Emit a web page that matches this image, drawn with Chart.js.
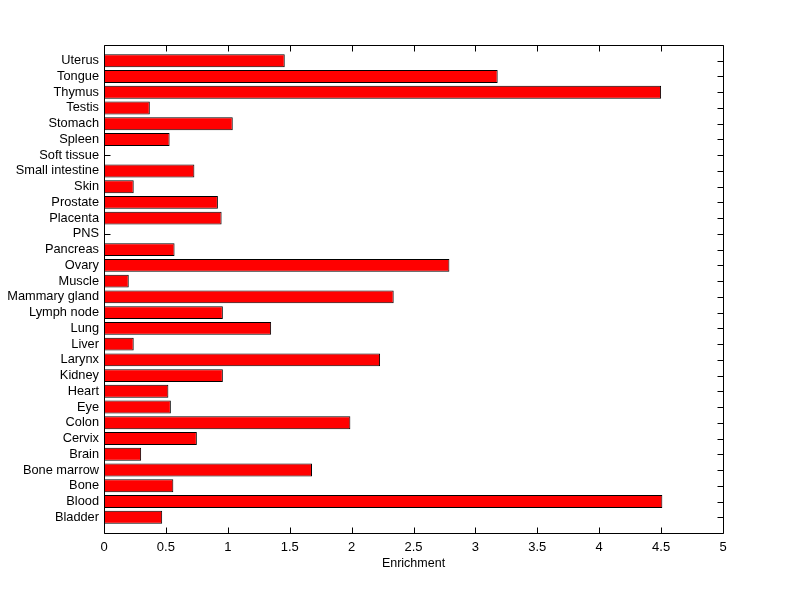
<!DOCTYPE html>
<html><head><meta charset="utf-8">
<script src="https://cdn.jsdelivr.net/npm/chart.js@4"></script>
<style>html,body{margin:0;padding:0;background:#fff}#wrap{width:800px;height:599px}</style>
</head><body><div id="wrap"><canvas id="c" width="800" height="599"></canvas></div>
<script>
const categories = ["Uterus","Tongue","Thymus","Testis","Stomach","Spleen","Soft tissue","Small intestine","Skin","Prostate","Placenta","PNS","Pancreas","Ovary","Muscle","Mammary gland","Lymph node","Lung","Liver","Larynx","Kidney","Heart","Eye","Colon","Cervix","Brain","Bone marrow","Bone","Blood","Bladder"];
const enrichment = [1.46,3.18,4.50,0.37,1.04,0.53,0,0.73,0.24,0.92,0.95,0,0.57,2.79,0.20,2.34,0.96,1.35,0.24,2.23,0.96,0.52,0.54,1.99,0.75,0.30,1.68,0.56,4.51,0.47];
const xTicks = [0,0.5,1,1.5,2,2.5,3,3.5,4,4.5,5];
const xTitle = "Enrichment";

const n = categories.length;
const points = enrichment.map((v,i)=>({x:v, y:n - i}));
const FONT = "'Liberation Sans', Arial, sans-serif";

const frame = {
  id:'frame',
  beforeDatasetsDraw(chart){
    const {ctx, chartArea:a, scales:{x,y}} = chart;
    ctx.save();
    ctx.strokeStyle='#000'; ctx.lineWidth=1;
    ctx.beginPath();
    const L=Math.round(a.left)+0.5, R=Math.round(a.right)+0.5, T=Math.round(a.top)+0.5, B=Math.round(a.bottom)+0.5;
    ctx.rect(L,T,R-L,B-T);
    const tl=6;
    xTicks.forEach(v=>{const px=Math.round(x.getPixelForValue(v))+0.5; ctx.moveTo(px,B); ctx.lineTo(px,B-tl); ctx.moveTo(px,T); ctx.lineTo(px,T+tl);});
    for(let k=1;k<=n;k++){const py=Math.round(y.getPixelForValue(k))+0.5; ctx.moveTo(L,py); ctx.lineTo(L+tl,py); ctx.moveTo(R,py); ctx.lineTo(R-tl,py);}
    ctx.stroke();
    ctx.restore();
  }
};

new Chart(document.getElementById('c'), {
  type:'bar',
  data:{datasets:[{data:points, backgroundColor:'#ff0000', borderColor:'#000', borderWidth:1, borderSkipped:false, inflateAmount:0, barPercentage:0.82, categoryPercentage:1}]},
  options:{
    indexAxis:'y', responsive:false, animation:false,
    layout:{padding:{top:45,right:77,bottom:0,left:0}},
    plugins:{legend:{display:false}, tooltip:{enabled:false}},
    scales:{
      x:{type:'linear', min:0, max:5, afterBuildTicks(s){s.ticks=xTicks.map(v=>({value:v}));},
         grid:{display:false, drawTicks:false}, border:{display:false},
         ticks:{color:'#000', font:{family:FONT,size:13}, padding:7, maxRotation:0, callback:(v)=>String(v)},
         title:{display:true, text:xTitle, color:'#000', font:{family:FONT,size:12.5}, padding:{top:28,bottom:28}},
         afterFit(s){s.height=66;}},
      y:{type:'linear', min:0, max:n+1, offset:false,
         afterBuildTicks(s){s.ticks=categories.map((c,i)=>({value:n-i}));},
         ticks:{color:'#000', font:{family:FONT,size:12.8}, padding:5, autoSkip:false, callback:(v)=>categories[n-v]||''},
         grid:{display:false, drawTicks:false}, border:{display:false},
         afterFit(s){s.width=104;}}
    }
  },
  plugins:[frame]
});
</script></body></html>
